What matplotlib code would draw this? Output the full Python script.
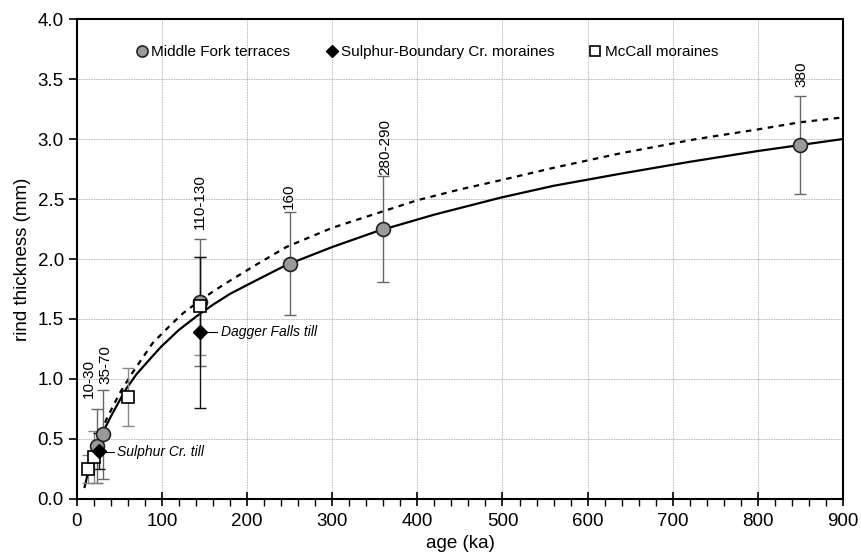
import matplotlib
matplotlib.use("Agg")
import matplotlib.pyplot as plt
from matplotlib.ticker import MultipleLocator, FormatStrFormatter
from matplotlib.lines import Line2D

plt.rcParams['font.family'] = ['Liberation Sans', 'DejaVu Sans']

# --- data ---
mf_age = [24, 30, 145, 250, 360, 850]
mf_rind = [0.44, 0.54, 1.64, 1.96, 2.25, 2.95]
mf_err = [0.31, 0.37, 0.53, 0.43, 0.44, 0.41]
mf_labels = ["10-30", "35-70", "110-130", "160", "280-290", "380"]
mf_label_x = [14.5, 34, 144.5, 249, 362, 851]
mf_label_y = [0.84, 0.96, 2.25, 2.42, 2.70, 3.43]

sb_age = [26, 145]
sb_rind = [0.40, 1.39]
sb_err = [0.15, 0.63]

mc_age = [13, 20, 60, 144]
mc_rind = [0.25, 0.35, 0.85, 1.61]
mc_err = [0.12, 0.22, 0.24, 0.41]

solid_x = [9, 13, 18, 24, 30, 40, 50, 58, 70, 85, 99, 120, 140, 160, 180, 210,
           246, 300, 352, 420, 497, 560, 638, 720, 800, 850, 900]
solid_y = [0.10, 0.22, 0.34, 0.45, 0.55, 0.69, 0.82, 0.92, 1.04, 1.16, 1.27, 1.41,
           1.52, 1.62, 1.71, 1.82, 1.95, 2.10, 2.23, 2.37, 2.51, 2.61, 2.71, 2.81,
           2.90, 2.95, 3.00]

dash_x = [28, 35, 50, 65, 89, 110, 125, 140, 160, 180, 210, 246, 300, 352, 400,
          450, 500, 560, 638, 728, 800, 850, 900]
dash_y = [0.55, 0.67, 0.88, 1.05, 1.30, 1.45, 1.55, 1.63, 1.73, 1.82, 1.95, 2.10,
          2.26, 2.38, 2.49, 2.58, 2.66, 2.76, 2.88, 3.00, 3.08, 3.14, 3.18]

legend_labels = ['Middle Fork terraces', 'Sulphur-Boundary Cr. moraines', 'McCall moraines']

fig = plt.figure(figsize=(8.61, 5.6), dpi=100)
ax = fig.add_axes([0.0894, 0.109, 0.8896, 0.857])

ax.set_xlim(0, 900)
ax.set_ylim(0, 4.0)

ax.grid(True, which='major', color='#999999', linestyle=(0, (1, 1)), linewidth=0.6)
ax.set_axisbelow(True)

ax.plot(solid_x, solid_y, color='black', lw=1.6, zorder=3)
ax.plot(dash_x, dash_y, color='black', lw=1.6, linestyle=(0, (2.5, 2.5)), zorder=3)

ax.errorbar(mf_age, mf_rind, yerr=mf_err, fmt='none', ecolor='#666666',
            elinewidth=1.0, capsize=4, capthick=1.0, zorder=4)
ax.errorbar(mc_age, mc_rind, yerr=mc_err, fmt='none', ecolor='#888888',
            elinewidth=1.0, capsize=4, capthick=1.0, zorder=4)
ax.errorbar(sb_age, sb_rind, yerr=sb_err, fmt='none', ecolor='#111111',
            elinewidth=1.0, capsize=4, capthick=1.0, zorder=4)

ax.plot(mf_age, mf_rind, 'o', ms=10, mfc='#9a9a9a', mec='#222222', mew=1.2, zorder=5)
ax.plot(mc_age, mc_rind, 's', ms=8, mfc='white', mec='black', mew=1.2, zorder=6)
ax.plot(sb_age, sb_rind, 'D', ms=7, mfc='black', mec='black', zorder=7)

for lab, lx, ly in zip(mf_labels, mf_label_x, mf_label_y):
    ax.text(lx, ly, lab, rotation=90, ha='center', va='bottom', fontsize=11)

ax.plot([30, 44], [0.39, 0.39], color='black', lw=0.8, zorder=4)
ax.text(47, 0.39, "Sulphur Cr. till", style='italic', fontsize=10, va='center', ha='left')
ax.plot([149, 165], [1.39, 1.39], color='black', lw=0.8, zorder=4)
ax.text(169, 1.39, "Dagger Falls till", style='italic', fontsize=10, va='center', ha='left')

lh = [Line2D([], [], marker='o', ls='none', ms=8, mfc='#9a9a9a', mec='#222222', mew=1.2),
      Line2D([], [], marker='D', ls='none', ms=6, mfc='black', mec='black'),
      Line2D([], [], marker='s', ls='none', ms=7, mfc='white', mec='black', mew=1.2)]
ax.legend(lh, legend_labels, loc='center', bbox_to_anchor=(0.456, 0.931),
          ncol=3, frameon=False, fontsize=11, handletextpad=0.1, columnspacing=2.2,
          handlelength=1.0)

ax.xaxis.set_major_locator(MultipleLocator(100))
ax.xaxis.set_minor_locator(MultipleLocator(20))
ax.yaxis.set_major_locator(MultipleLocator(0.5))
ax.yaxis.set_major_formatter(FormatStrFormatter('%.1f'))
ax.tick_params(axis='x', which='major', direction='inout', length=10, width=1.2, labelsize=13.5, pad=5)
ax.tick_params(axis='x', which='minor', direction='out', length=5, width=1.0)
ax.tick_params(axis='y', which='major', direction='out', length=6, width=1.2, labelsize=13.5)
for s in ax.spines.values():
    s.set_linewidth(1.5)

ax.set_xlabel('age (ka)', fontsize=13.5, labelpad=4)
ax.set_ylabel('rind thickness (mm)', fontsize=13.5, labelpad=5)

fig.savefig('out.png', dpi=100)
